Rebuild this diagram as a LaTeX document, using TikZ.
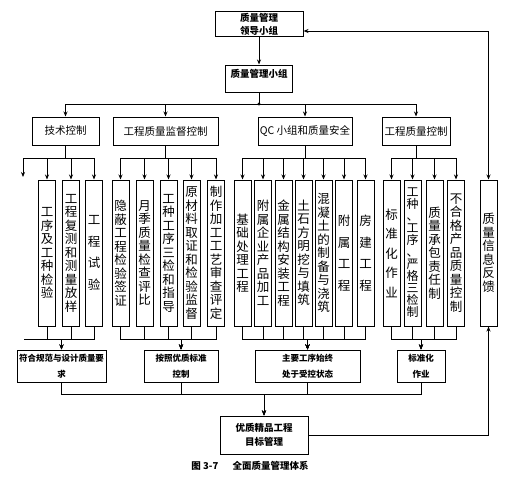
\documentclass[tikz,border=0pt]{standalone}
\usepackage{fontspec}
\setmainfont{Noto Sans CJK SC}
\usetikzlibrary{arrows.meta}
\tikzset{
  tip/.tip={Stealth[length=5pt,width=4pt]},
  arr/.style={-tip},
  vbox/.style={draw, minimum width=17pt, minimum height=146pt, inner sep=0pt, align=center, font=\fontsize{12.5}{13.5}\selectfont},
  lvl/.style={draw, minimum height=28pt, inner sep=1pt, font=\fontsize{10.5}{12}\selectfont},
  res/.style={draw, minimum height=32pt, inner sep=1pt, align=center, font=\bfseries\fontsize{8.5}{16}\selectfont},
}
\begin{document}
\begin{tikzpicture}[x=1pt,y=-1pt,line width=1pt]
\useasboundingbox (0,0) rectangle (516,479);
\fill[white] (0,0) rectangle (516,479);
% top
\node[draw, minimum width=88pt, minimum height=24pt, inner sep=1pt, align=center, font=\bfseries\fontsize{9.5}{13}\selectfont] (top) at (259,24) {质量管理\\领导小组};
\node[draw, minimum width=67pt, inner ysep=2pt, text height=10pt, text depth=13pt, font=\bfseries\fontsize{9.5}{12}\selectfont] (qm) at (259,78.5) {质量管理小组};
\coordinate (j) at (259,104);
\draw[arr] (top.south) -- (qm.north);
\draw (qm.south) -- (j);
\fill (j) circle (1.6pt);
% level 2
\node[lvl, minimum width=67pt] (L1) at (65.5,131) {技术控制};
\node[lvl, minimum width=105pt] (L2) at (165.5,131) {工程质量监督控制};
\node[lvl, minimum width=94pt] (L3) at (305,131) {QC 小组和质量安全};
\node[lvl, minimum width=68pt] (L4) at (416,131) {工程质量控制};
\foreach \n in {L1,L2,L3,L4} \draw[arr] (j) -| (\n.north);
% buses
\coordinate (h1) at (0,158);
\coordinate (h2) at (0,339);
\coordinate (h3) at (0,394);
% vertical boxes
\node[vbox] (a1) at (47,253) {工\\序\\及\\工\\种\\检\\验};
\node[vbox] (a2) at (71,253) {工\\程\\复\\测\\和\\测\\量\\放\\样};
\node[vbox] (a3) at (94,253) {工\\[8pt]程\\[8pt]试\\[8pt]验};
\node[vbox] (b1) at (120.5,253) {隐\\蔽\\工\\程\\检\\验\\签\\证};
\node[vbox] (b2) at (144.5,253) {月\\季\\质\\量\\检\\查\\评\\比};
\node[vbox] (b3) at (168.5,253) {工\\种\\工\\序\\三\\检\\和\\指\\导};
\node[vbox] (b4) at (191.5,253) {原\\材\\料\\取\\证\\和\\检\\验\\监\\督};
\node[vbox] (b5) at (216,253) {制\\作\\加\\工\\工\\艺\\审\\查\\评\\定};
\node[vbox] (c1) at (242.5,253) {基\\础\\处\\理\\工\\程};
\node[vbox] (c2) at (263,253) {附\\属\\企\\业\\产\\品\\加\\工};
\node[vbox] (c3) at (283.5,253) {金\\属\\结\\构\\安\\装\\工\\程};
\node[vbox] (c4) at (303.5,253) {土\\石\\方\\明\\挖\\与\\填\\筑};
\node[vbox] (c5) at (323.5,253) {混\\凝\\土\\的\\制\\备\\与\\浇\\筑};
\node[vbox] (c6) at (344,253) {附\\[8pt]属\\[8pt]工\\[8pt]程};
\node[vbox] (c7) at (365.5,253) {房\\[8pt]建\\[8pt]工\\[8pt]程};
\node[vbox] (d1) at (391.5,253) {标\\[6pt]准\\[6pt]化\\[6pt]作\\[6pt]业};
\node[vbox, font=\fontsize{12}{12}\selectfont] (d2) at (412.5,253) {工\\种\\、\\工\\序\\、\\严\\格\\三\\检\\制};
\node[vbox] (d3) at (434.5,253) {质\\量\\承\\包\\责\\任\\制};
\node[vbox] (d4) at (456,253) {不\\合\\格\\产\\品\\质\\量\\控\\制};
\node[vbox] (fb) at (488.5,253) {质\\量\\信\\息\\反\\馈};
% results
\node[res, minimum width=89pt] (R1) at (61.5,366) {符合规范与设计质量要\\求};
\node[res, minimum width=74pt] (R2) at (181,366) {按照优质标准\\控制};
\node[res, minimum width=105pt] (R3) at (307.5,366) {主要工序始终\\处于受控状态};
\node[res, minimum width=48pt] (R4) at (421,366) {标准化\\作业};
\node[draw, minimum width=88pt, minimum height=38pt, inner sep=1pt, align=center, font=\bfseries\fontsize{9.5}{14}\selectfont] (G) at (264,435) {优质精品工程\\目标管理};
% branches down from level 2
\coordinate (f1) at (23,177);
\coordinate (f2) at (24,339);
\foreach \n in {a1,a2,a3} \draw[arr] (L1.south) -- (L1.south |- h1) -| (\n.north);
\draw[arr] (L1.south) -- (L1.south |- h1) -| (f1);
\foreach \n in {b1,b2,b3,b4,b5} \draw[arr] (L2.south) -- (L2.south |- h1) -| (\n.north);
\foreach \n in {c1,c2,c3,c4,c5,c6,c7} \draw[arr] (L3.south) -- (L3.south |- h1) -| (\n.north);
\foreach \n in {d1,d2,d3,d4} \draw[arr] (L4.south) -- (L4.south |- h1) -| (\n.north);
% merge into results
\foreach \n in {a1,a2,a3} \draw[arr] (\n.south) |- (R1.north |- h2) -- (R1.north);
\draw (f2) -- (R1.north |- h2);
\foreach \n in {b1,b2,b3,b4,b5} \draw[arr] (\n.south) |- (R2.north |- h2) -- (R2.north);
\foreach \n in {c1,c2,c3,c4,c5,c6,c7} \draw[arr] (\n.south) |- (R3.north |- h2) -- (R3.north);
\foreach \n in {d1,d2,d3,d4} \draw[arr] (\n.south) |- (R4.north |- h2) -- (R4.north);
% merge into goal
\foreach \n in {R1,R2,R3,R4} \draw[arr] (\n.south) |- (G.north |- h3) -- (G.north);
% feedback
\draw[arr] (G.east) -| (fb.south);
\draw[tip-tip] ([yshift=-7pt]top.east) -| (fb.north);
% caption
\node[font=\bfseries\fontsize{9.5}{12}\selectfont] (cap) at (250,466) {图 3-7\hspace{1.5em}全面质量管理体系};
\end{tikzpicture}
\end{document}
